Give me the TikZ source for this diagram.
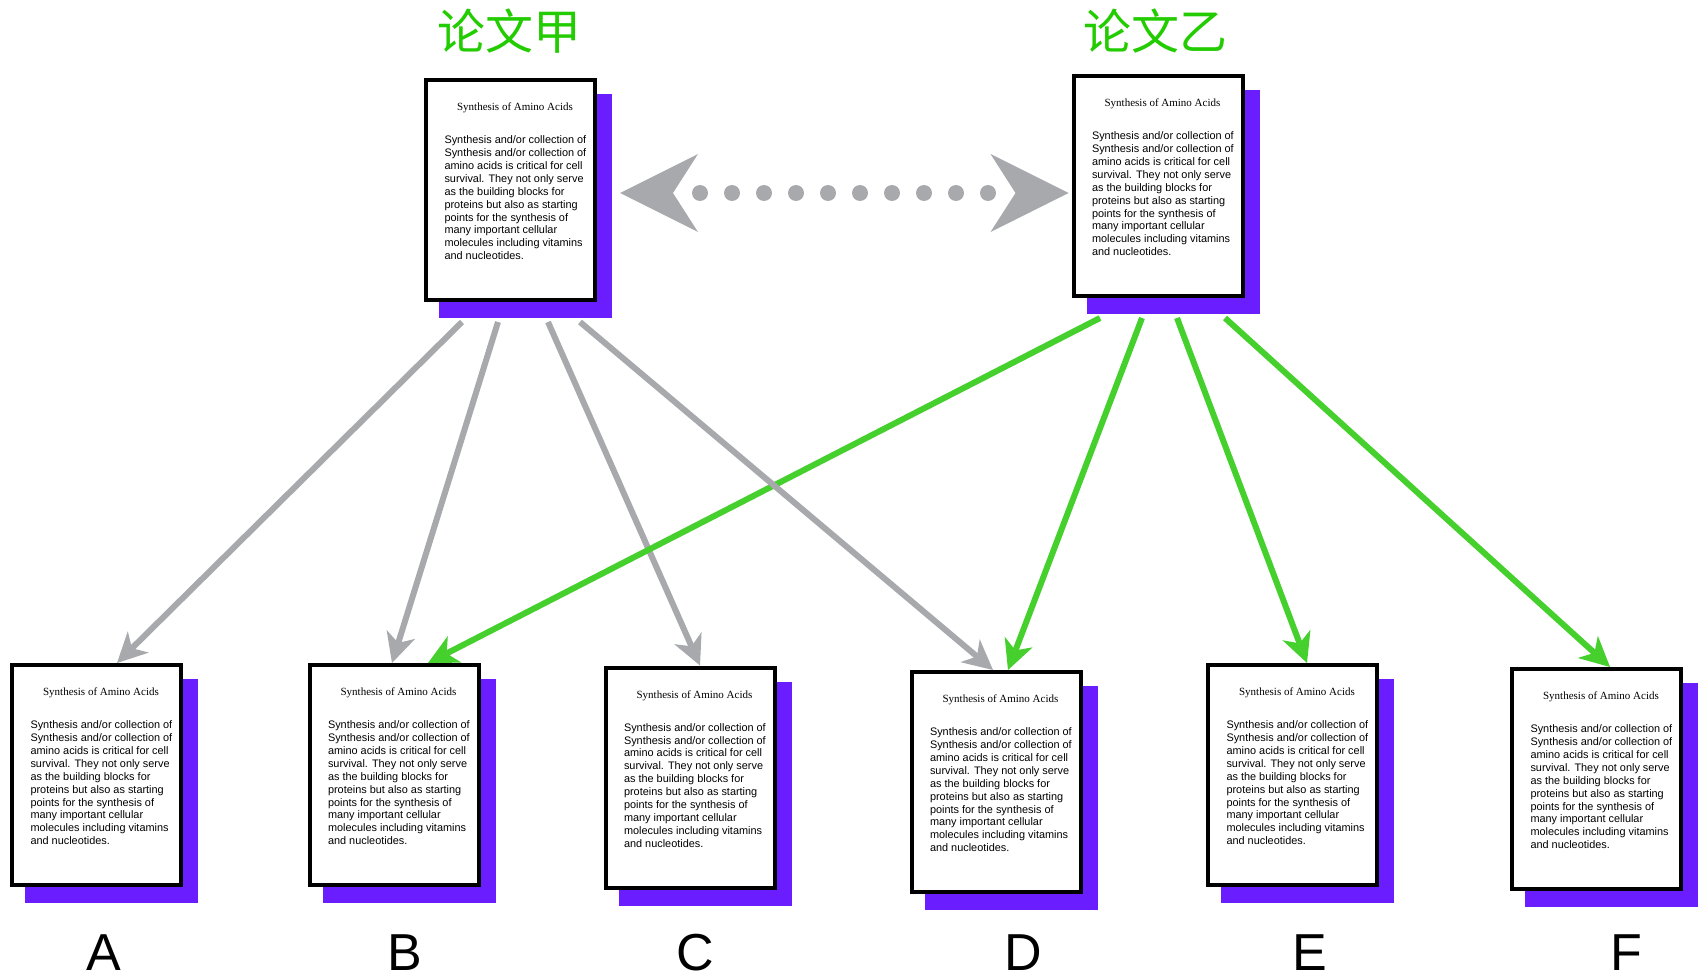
\documentclass[tikz,border=0pt]{standalone}
\usepackage{fontspec}
\setmainfont{Liberation Sans}
\newfontfamily\titleserif{Liberation Serif}
\newfontfamily\cjk{Noto Sans CJK SC}
\usetikzlibrary{arrows.meta,shadows}
\definecolor{shadowpurple}{RGB}{106,30,255}
\definecolor{arrgray}{RGB}{168,169,173}
\definecolor{arrgreen}{RGB}{70,208,45}
\definecolor{titlegreen}{RGB}{34,204,0}
\newcommand{\doctext}{%
\parbox[c][200pt][t]{160pt}{%
\vspace*{13pt}%
{\centering\hspace*{9pt}{\titleserif\fontsize{11}{13}\selectfont Synthesis of Amino Acids}\par}%
\vspace{20pt}%
{\raggedright\leftskip=14pt\fontsize{10.9}{12.9}\selectfont
Synthesis and/or collection of\\
Synthesis and/or collection of\\
amino acids is critical for cell\\
survival. They not only serve\\
as the building blocks for\\
proteins but also as starting\\
points for the synthesis of\\
many important cellular\\
molecules including vitamins\\
and nucleotides.\par}}}
\tikzset{
  doc/.style={draw=black, line width=4pt, fill=white, minimum width=169pt,
    minimum height=220pt, inner sep=0pt,
    general shadow={fill=shadowpurple, draw=shadowpurple, shadow xshift=15pt, shadow yshift=-16pt}},
  letter/.style={anchor=base, inner sep=0pt, text depth=0pt, font=\fontsize{52}{52}\selectfont},
  cjktitle/.style={inner sep=0pt, text=titlegreen, font=\cjk\fontsize{48}{48}\selectfont},
  tipsmall/.tip={Stealth[length=30pt, width=30pt, inset=9pt, line width=0pt]},
  tipbig/.tip={Stealth[length=78pt, width=78pt, inset=25pt, line width=0pt]},
  grayarr/.style={draw=arrgray, line width=6pt, -tipsmall},
  greenarr/.style={draw=arrgreen, line width=6pt, -tipsmall},
  dotarr/.style={draw=arrgray, line width=16pt, line cap=round, dash pattern=on 0pt off 32pt, dash phase=5pt, tipbig-tipbig}
}
\begin{document}
\begin{tikzpicture}[x=1pt, y=-1pt]
\useasboundingbox (0,0) rectangle (1700,974);
% titles
\node[cjktitle] (tjia) at (509.5,31.5) {论文甲};
\node[cjktitle] (tyi) at (1155,31.5) {论文乙};
% documents
\node[doc] (jia) at (510.5,190) {\doctext};
\node[doc] (yi) at (1158,186) {\doctext};
\node[doc] (A) at (96.5,775) {\doctext};
\node[doc] (B) at (394,775) {\doctext};
\node[doc] (C) at (690,777.5) {\doctext};
\node[doc] (D) at (996,782) {\doctext};
\node[doc] (E) at (1292.5,775) {\doctext};
\node[doc] (F) at (1596.5,779) {\doctext};
% letters
\node[letter] (lA) at (104,970) {A};
\node[letter] (lB) at (405,970) {B};
\node[letter] (lC) at (695,970) {C};
\node[letter] (lD) at (1023,970) {D};
\node[letter] (lE) at (1310,970) {E};
\node[letter] (lF) at (1626,970) {F};
% dotted double arrow
\draw[dotarr] ([xshift=23pt,yshift=-3pt]jia.east) -- ([xshift=-3pt,yshift=-7pt]yi.west);
% arrows (drawing order follows the reference's overlaps)
\draw[grayarr] ([xshift=-48.5pt,yshift=-20pt]jia.south) -- ([xshift=20.5pt]A.north);
\draw[grayarr] ([xshift=-12.5pt,yshift=-20pt]jia.south) -- ([xshift=-2pt]B.north);
\draw[grayarr] ([xshift=37.5pt,yshift=-20pt]jia.south) -- ([xshift=10pt]C.north);
\draw[greenarr] ([xshift=-58pt,yshift=-20pt]yi.south) -- ([xshift=34pt]B.north);
\draw[grayarr] ([xshift=69.5pt,yshift=-20pt]jia.south) -- ([xshift=-3pt]D.north);
\draw[greenarr] ([xshift=-16pt,yshift=-20pt]yi.south) -- ([xshift=12pt]D.north);
\draw[greenarr] ([xshift=19pt,yshift=-20pt]yi.south) -- ([xshift=14.5pt]E.north);
\draw[greenarr] ([xshift=67pt,yshift=-20pt]yi.south) -- ([xshift=13.5pt]F.north);
\end{tikzpicture}
\end{document}
